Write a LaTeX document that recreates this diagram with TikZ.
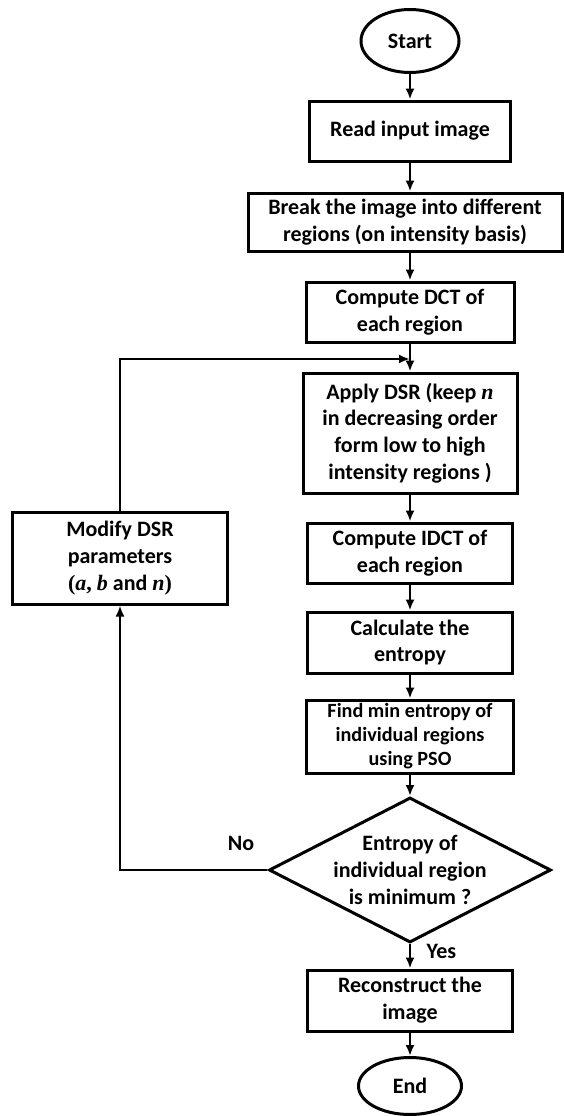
\documentclass[tikz,border=0pt]{standalone}
\usepackage{fontspec}
\setmainfont{Carlito}
\newfontfamily\varfont{Liberation Serif}
\usetikzlibrary{shapes,arrows.meta}
\newcommand{\symb}[1]{{\varfont\bfseries\itshape #1}}
\tikzstyle{terminal} = [ellipse, draw, line width=3pt, inner sep=0pt,
    font=\bfseries\fontsize{22}{26.8}\selectfont]
\tikzstyle{block} = [rectangle, draw, line width=3pt, align=center,
    inner sep=0pt, font=\bfseries\fontsize{22}{26.8}\selectfont]
\tikzstyle{decision} = [diamond, draw, line width=3pt, align=center,
    inner sep=-4pt, aspect=1.94, minimum width=282pt, minimum height=145pt,
    font=\bfseries\fontsize{22}{26.8}\selectfont]
\tikzstyle{answer} = [font=\bfseries\fontsize{22}{26}\selectfont]
\tikzstyle{line} = [draw, line width=2.8pt, -{Latex[length=11pt,width=9pt]}]

\begin{document}
\begin{tikzpicture}[x=1pt, y=1pt, node distance=90pt, auto]
    \useasboundingbox (0,0) rectangle (563,-1116);
    % Place nodes
    \node [terminal, minimum width=98pt, minimum height=63pt] (start) at (410,-41) {Start};
    \node [block, below of=start, minimum width=201pt, minimum height=60pt] (read) {Read input image};
    \node [block, below of=read, node distance=91pt, xshift=-5pt, minimum width=314pt, minimum height=58pt] (break) {Break the image into different\\regions (on intensity basis)};
    \node [block, below of=read, node distance=181pt, minimum width=208pt, minimum height=60pt] (dct) {Compute DCT of\\each region};
    \coordinate [below of=dct, node distance=47pt] (join);
    \node [block, below of=dct, node distance=121pt, minimum width=214pt, minimum height=120pt] (apply) {Apply DSR (keep \symb{n}\\in decreasing order\\form low to high\\intensity regions )};
    \node [block, below of=apply, node distance=120pt, minimum width=205pt, minimum height=60pt] (idct) {Compute IDCT of\\each region};
    \node [block, below of=idct, node distance=89.5pt, minimum width=205pt, minimum height=61pt] (calc) {Calculate the\\entropy};
    \node [block, below of=calc, node distance=94pt, minimum width=207pt, minimum height=73pt,
        font=\bfseries\fontsize{20.2}{24}\selectfont] (find) {Find min entropy of\\individual regions\\using PSO};
    \node [decision, below of=find, node distance=133.5pt] (decide) {Entropy of\\individual region\\is minimum ?};
    \node [block, below of=decide, node distance=130.5pt, minimum width=205pt, minimum height=61pt] (recon) {Reconstruct the\\image};
    \node [terminal, below of=recon, node distance=85.5pt, minimum width=103pt, minimum height=57pt] (finish) {End};
    \node [block, minimum width=215pt, minimum height=92pt] (modify) at (120,-558) {Modify DSR\\parameters\\{\varfont(}\symb{a}{\varfont,} \symb{b} and \symb{n}{\varfont)}};
    % Draw edges
    \path [line] (start) -- (read);
    \path [line] (read) -- (read |- break.north);
    \path [line] (break.south -| dct) -- (dct);
    \path [line] (dct) -- (apply);
    \path [line] (apply) -- (idct);
    \path [line] (idct) -- (calc);
    \path [line] (calc) -- (find);
    \path [line] (find) -- (decide);
    \path [line] (decide) -| node [pos=0.09, above=15pt, answer] {No} (modify);
    \path [line] (modify) |- (join);
    \path [line] (decide) -- node [pos=0.3, right=12pt, answer] {Yes} (recon);
    \path [line] (recon) -- (finish);
\end{tikzpicture}
\end{document}
